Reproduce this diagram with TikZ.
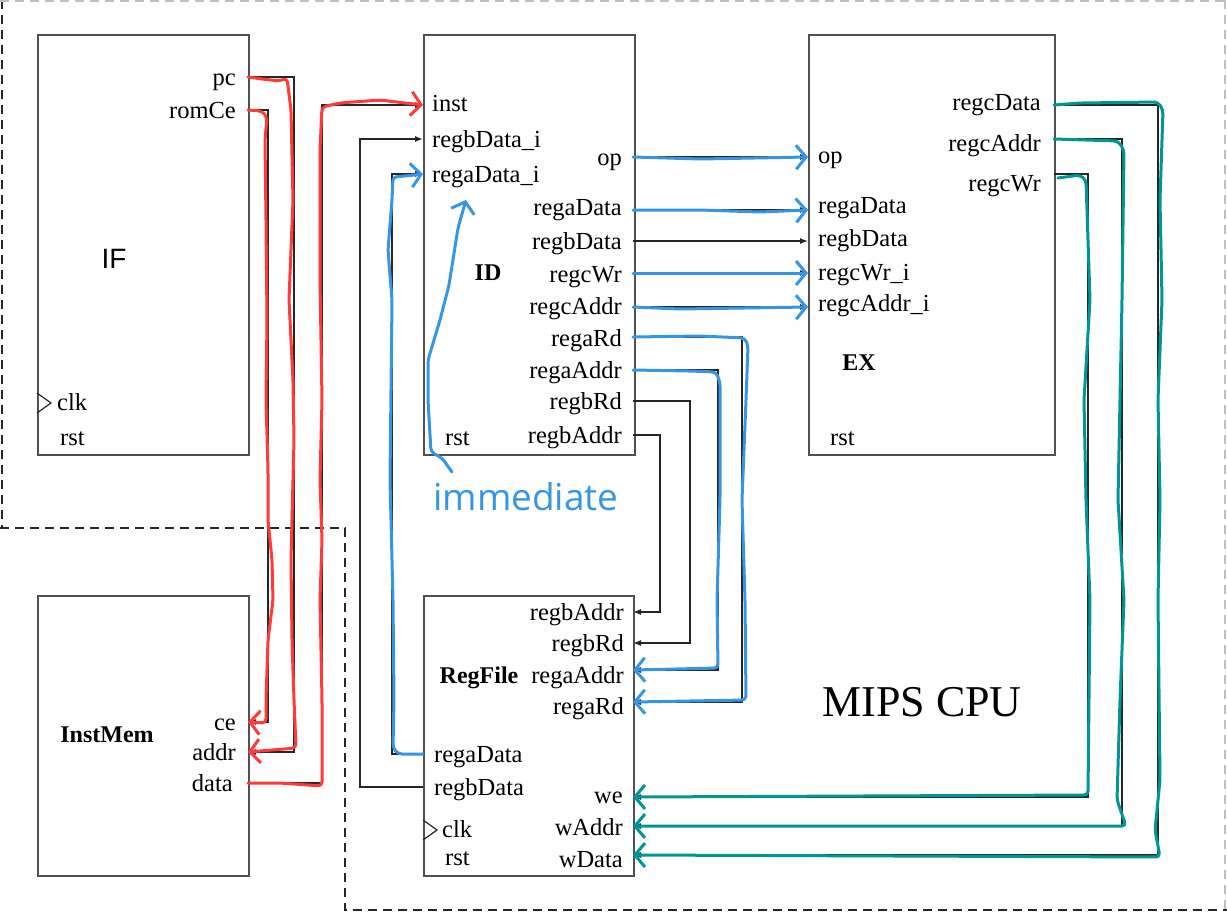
\documentclass[tikz,border=0pt]{standalone}
\usepackage{fontspec}
\setmainfont{Liberation Serif}
\newfontfamily\sansf{Liberation Sans}
\newfontfamily\handf{Open Sans}
\usetikzlibrary{arrows.meta}
\definecolor{hred}{RGB}{255,58,58}
\definecolor{hblue}{RGB}{55,150,228}
\definecolor{hteal}{RGB}{0,150,150}
\definecolor{boxgray}{RGB}{80,80,80}
\tikzset{
  blk/.style={draw=boxgray, line width=1.8pt, inner sep=0pt, anchor=north west},
  lbl/.style={font=\fontsize{24.5}{24.5}\selectfont, inner sep=0pt, text height=16pt, text depth=5pt, yshift=-2.5pt},
  bold/.style={font=\fontsize{24}{24}\selectfont\bfseries, inner sep=0pt},
  wire/.style={line width=1.3pt, draw=black!85},
  arr/.style={wire, -{Latex[length=8pt,width=6pt]}},
  dsh/.style={line width=1.5pt, dash pattern=on 9pt off 6pt},
  hand/.style={line width=3pt, line cap=round, line join=round, rounded corners=4pt},
  handarr/.style={hand, -{Straight Barb[length=10pt,width=24pt]}},
  clktri/.style={draw=black!85, line width=1.2pt}
}
\begin{document}
\begin{tikzpicture}[x=1pt,y=-1pt]
\useasboundingbox (0,0) rectangle (1227,914);
% dashed borders
\draw[dsh, black!85] (2,0) -- (2,528);
\draw[dsh, black!85] (0,528) -- (345,528) -- (345,910) -- (1227,910);
\draw[dsh, black!25] (0,1) -- (1227,1);
\draw[dsh, black!25] (1225,0) -- (1225,910);

% boxes
\node[blk, minimum width=211pt, minimum height=420pt] (IF) at (37,34) {};
\node[blk, minimum width=211pt, minimum height=420pt] (ID) at (423,34) {};
\node[blk, minimum width=246pt, minimum height=420pt] (EX) at (808,34) {};
\node[blk, minimum width=211pt, minimum height=280pt] (IM) at (37,595) {};
\node[blk, minimum width=210pt, minimum height=280pt] (RF) at (423,595) {};

% port coordinates
\coordinate (IFpc) at (248,77);
\coordinate (IFce) at (248,110);
\coordinate (IMce) at (248,722);
\coordinate (IMaddr) at (248,752);
\coordinate (IMdata) at (248,783);
\coordinate (IDinst) at (423,105);
\coordinate (IDbdi) at (423,139);
\coordinate (IDadi) at (423,174);
\coordinate (IDop) at (633,157);
\coordinate (IDad) at (633,210);
\coordinate (IDbd) at (633,241);
\coordinate (IDcw) at (633,273);
\coordinate (IDca) at (633,307);
\coordinate (IDard) at (633,337);
\coordinate (IDaad) at (633,370);
\coordinate (IDbrd) at (633,401);
\coordinate (IDbad) at (633,435);
\coordinate (EXop) at (808,157);
\coordinate (EXad) at (808,210);
\coordinate (EXbd) at (808,241);
\coordinate (EXcw) at (808,273);
\coordinate (EXca) at (808,307);
\coordinate (EXocd) at (1054,105);
\coordinate (EXoca) at (1054,139);
\coordinate (EXocw) at (1054,174);
\coordinate (RFbad) at (633,612);
\coordinate (RFbrd) at (633,643);
\coordinate (RFaad) at (633,670);
\coordinate (RFard) at (633,702);
\coordinate (RFwe) at (633,797);
\coordinate (RFwa) at (633,826);
\coordinate (RFwd) at (633,855);
\coordinate (RFad) at (423,754);
\coordinate (RFbd) at (423,787);

% labels IF
\node[lbl, anchor=east] (lpc) at (236,77) {pc};
\node[lbl, anchor=east] (lromce) at (236,110) {romCe};
\node[font=\sansf\fontsize{28}{28}\selectfont, inner sep=0pt] (lIF) at (114,259) {IF};
\node[lbl, anchor=west] (lifclk) at (57,402) {clk};
\node[lbl, anchor=west] (lifrst) at (60,437) {rst};
\draw[clktri] (37,393) -- (51,403) -- (37,413);
% labels ID
\node[lbl, anchor=west] (linst) at (432,103) {inst};
\node[lbl, anchor=west] (lbdi) at (432,139) {regbData\_i};
\node[lbl, anchor=west] (ladi) at (432,174) {regaData\_i};
\node[lbl, anchor=east] (lop) at (622,157) {op};
\node[lbl, anchor=east] (lad) at (622,207) {regaData};
\node[lbl, anchor=east] (lbd) at (622,241) {regbData};
\node[lbl, anchor=east] (lcw) at (622,274) {regcWr};
\node[lbl, anchor=east] (lca) at (622,306) {regcAddr};
\node[lbl, anchor=east] (lard) at (622,338) {regaRd};
\node[lbl, anchor=east] (laad) at (622,370) {regaAddr};
\node[lbl, anchor=east] (lbrd) at (622,401) {regbRd};
\node[lbl, anchor=east] (lbad) at (622,435) {regbAddr};
\node[bold] (lID) at (488,273) {ID};
\node[lbl, anchor=west] (lidrst) at (445,437) {rst};
% labels EX
\node[lbl, anchor=west] (lxop) at (818,155) {op};
\node[lbl, anchor=west] (lxad) at (818,205) {regaData};
\node[lbl, anchor=west] (lxbd) at (818,238) {regbData};
\node[lbl, anchor=west] (lxcw) at (818,272) {regcWr\_i};
\node[lbl, anchor=west] (lxca) at (818,303) {regcAddr\_i};
\node[lbl, anchor=east] (lxocd) at (1041,102) {regcData};
\node[lbl, anchor=east] (lxoca) at (1041,143) {regcAddr};
\node[lbl, anchor=east] (lxocw) at (1041,183) {regcWr};
\node[bold] (lEX) at (859,363) {EX};
\node[lbl, anchor=west] (lexrst) at (830,437) {rst};
% labels InstMem
\node[bold] (lIM) at (107,735) {InstMem};
\node[lbl, anchor=east] (lce) at (236,722) {ce};
\node[lbl, anchor=east] (laddr) at (236,752) {addr};
\node[lbl, anchor=east] (ldata) at (233,783) {data};
% labels RegFile
\node[lbl, anchor=east] (lrbad) at (624,612) {regbAddr};
\node[lbl, anchor=east] (lrbrd) at (624,643) {regbRd};
\node[lbl, anchor=east] (lraad) at (624,675) {regaAddr};
\node[lbl, anchor=east] (lrard) at (624,706) {regaRd};
\node[bold] (lRF) at (479,678) {RegFile};
\node[lbl, anchor=west] (lrad) at (434,754) {regaData};
\node[lbl, anchor=west] (lrbd) at (434,787) {regbData};
\node[lbl, anchor=west] (lrclk) at (442,829) {clk};
\node[lbl, anchor=west] (lrrst) at (445,857) {rst};
\draw[clktri] (423,820) -- (437,830) -- (423,840);
\node[lbl, anchor=east] (lrwe) at (623,795) {we};
\node[lbl, anchor=east] (lrwa) at (623,827) {wAddr};
\node[lbl, anchor=east] (lrwd) at (623,859) {wData};
% MIPS CPU
\node[font=\fontsize{44}{44}\selectfont, inner sep=0pt] (lcpu) at (922,702) {MIPS CPU};

% black connectors
\draw[arr] (IFpc) -- ++(46,0) |- (IMaddr);
\draw[arr] (IFce) -- ++(20,0) |- (IMce);
\draw[arr] (IMdata) -- ++(74,0) |- (IDinst);
\draw[arr] (RFbd) -- ++(-63,0) |- (IDbdi);
\draw[arr] (RFad) -- ++(-31,0) |- (IDadi);
\draw[arr] (IDop) -- (EXop);
\draw[arr] (IDad) -- (EXad);
\draw[arr] (IDbd) -- (EXbd);
\draw[arr] (IDcw) -- (EXcw);
\draw[arr] (IDca) -- (EXca);
\draw[arr] (IDard) -- ++(109,0) |- (RFard);
\draw[arr] (IDaad) -- ++(85,0) |- (RFaad);
\draw[arr] (IDbrd) -- ++(57,0) |- (RFbrd);
\draw[arr] (IDbad) -- ++(27,0) |- (RFbad);
\draw[arr] (EXocd) -- ++(104,0) |- (RFwd);
\draw[arr] (EXoca) -- ++(68,0) |- (RFwa);
\draw[arr] (EXocw) -- ++(34,0) |- (RFwe);

% hand-drawn red
\draw[handarr, hred] (IFpc) -- (262,79) -- (280,81) -- (287,78) -- (291,110) -- (293,200) -- (289,300) -- (293,380) -- (294,440) -- (291,560) -- (292,640) -- (294,700) -- (296,748) -- (IMaddr);
\draw[handarr, hred] (IFce) -- (262,111) -- (267,117) -- (265,140) -- (266,220) -- (267,320) -- (266,400) -- (268,470) -- (268,520) -- (272,560) -- (273,600) -- (268,640) -- (266,700) -- (266,723) -- (IMce);
\draw[handarr, hred] (IMdata) -- (280,783) -- (322,786) -- (322,700) -- (320,600) -- (322,540) -- (320,480) -- (322,400) -- (320,280) -- (320,150) -- (322,107) -- (340,103) -- (380,100) -- (405,103) -- (IDinst);

% hand-drawn blue
\draw[handarr, hblue] (RFad) -- (398,754) -- (393,748) -- (394,700) -- (393,600) -- (390,480) -- (392,300) -- (388,250) -- (392,200) -- (393,177) -- (405,176) -- (IDadi);
\draw[handarr, hblue] (452,472) -- (442,458) -- (431,452) -- (428,400) -- (428,360) -- (440,320) -- (449,285) -- (458,228) -- (466,200);
\node[font=\handf\fontsize{37}{37}\selectfont, text=hblue, inner sep=0pt] (limm) at (526,497) {immediate};
\draw[handarr, hblue] (IDop) -- (700,159) -- (EXop);
\draw[handarr, hblue] (IDad) -- (700,210) -- (760,212) -- (EXad);
\draw[handarr, hblue] (IDcw) -- (EXcw);
\draw[handarr, hblue] (IDca) -- (680,309) -- (EXca);
\draw[handarr, hblue] (IDard) -- (700,336) -- (745,338) -- (748,346) -- (746,400) -- (742,500) -- (745,600) -- (746,700) -- (RFard);
\draw[handarr, hblue] (IDaad) -- (690,371) -- (716,372) -- (720,382) -- (720,500) -- (717,600) -- (718,668) -- (RFaad);

% hand-drawn teal
\draw[handarr, hteal] (EXocd) -- (1080,103) -- (1158,102) -- (1163,110) -- (1160,200) -- (1162,300) -- (1158,400) -- (1160,500) -- (1158,600) -- (1160,780) -- (1155,830) -- (1160,857) -- (RFwd);
\draw[handarr, hteal] (EXoca) -- (1118,141) -- (1124,150) -- (1122,300) -- (1118,500) -- (1124,600) -- (1120,700) -- (1117,800) -- (1126,826) -- (RFwa);
\draw[handarr, hteal] (1058,178) -- (1080,175) -- (1086,180) -- (1090,300) -- (1084,400) -- (1086,500) -- (1090,600) -- (1088,795) -- (RFwe);
\end{tikzpicture}
\end{document}
